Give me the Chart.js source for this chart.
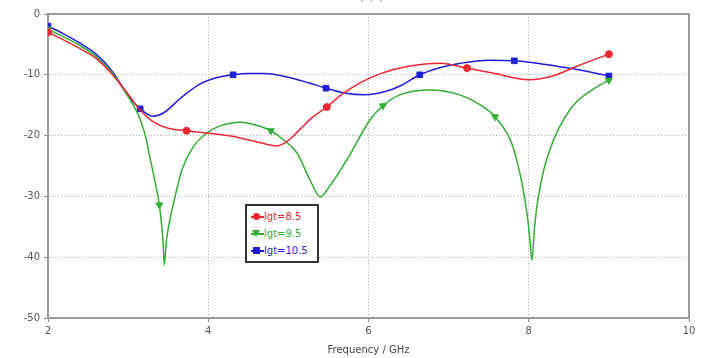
<!DOCTYPE html>
<html>
<head>
<meta charset="utf-8">
<script src="https://cdn.jsdelivr.net/npm/chart.js@4/dist/chart.umd.min.js"></script>
<style>
  html, body { margin: 0; padding: 0; background: #fff; }
  #wrap { position: relative; width: 709px; height: 358px; overflow: hidden; }
  #title { position: absolute; left: 0; width: 737px; top: -9px; text-align: center;
           font: 10px "DejaVu Sans", sans-serif; color: #555; }
  #legend { position: absolute; left: 245px; top: 204px; width: 70px; height: 55px;
            border: 2px solid #333; background: #fff; font: 10px "DejaVu Sans", sans-serif; }
  .item { position: absolute; left: 0; height: 12px; width: 70px; }
  .item .ln { position: absolute; left: 4px; top: 5px; width: 13px; height: 2px; }
  .item .mk { position: absolute; }
  .item .tx { position: absolute; left: 17px; top: 0; line-height: 12px; }
</style>
</head>
<body>
<div id="wrap">
  <canvas id="myChart"></canvas>
  <div id="title">S(1,1)</div>
  <div id="legend"></div>
</div>
<script>
// lgt = 8.5
const redFreq = [2.0, 2.2, 2.4, 2.6, 2.8, 3.0, 3.15, 3.3, 3.5, 3.73, 4.0, 4.3, 4.6, 4.86, 5.0, 5.15, 5.3, 5.48, 5.65, 5.9, 6.15, 6.5, 6.9, 7.23, 7.55, 8.0, 8.3, 8.6, 9.0];
const redDb   = [-3.0, -4.3, -5.7, -7.3, -9.9, -13.2, -15.8, -17.6, -18.8, -19.2, -19.6, -20.1, -21.0, -21.7, -20.8, -18.9, -17.0, -15.3, -13.4, -11.3, -9.8, -8.6, -8.1, -8.9, -9.7, -10.8, -10.2, -8.6, -6.6];
const redMarks = [2.0, 3.73, 5.48, 7.23, 9.0];

// lgt = 9.5
const greenFreq = [2.0, 2.2, 2.4, 2.6, 2.8, 3.0, 3.15, 3.22, 3.27, 3.33, 3.39, 3.42, 3.44, 3.45, 3.48, 3.52, 3.59, 3.67, 3.81, 3.98, 4.15, 4.4, 4.6, 4.78, 4.95, 5.11, 5.27, 5.4, 5.5, 5.73, 6.02, 6.18, 6.39, 6.77, 7.14, 7.35, 7.58, 7.77, 7.85, 7.93, 7.98, 8.01, 8.04, 8.07, 8.1, 8.14, 8.2, 8.31, 8.45, 8.6, 8.8, 9.0];
const greenDb   = [-2.5, -3.8, -5.2, -7.0, -9.7, -13.6, -17.3, -20.3, -23.5, -27.2, -31.4, -35.0, -38.3, -41.3, -37.0, -34.0, -29.8, -25.7, -21.9, -19.6, -18.4, -17.8, -18.3, -19.2, -20.8, -22.9, -27.3, -30.1, -28.6, -24.0, -17.4, -15.1, -13.3, -12.5, -13.3, -14.6, -16.9, -20.7, -24.0, -28.9, -33.0, -36.5, -40.5, -35.5, -31.8, -28.6, -25.0, -20.7, -17.0, -14.4, -12.4, -10.9];
const greenMarks = [2.0, 3.39, 4.78, 6.18, 7.58, 9.0];

// lgt = 10.5
const blueFreq = [2.0, 2.2, 2.4, 2.6, 2.8, 3.0, 3.15, 3.31, 3.45, 3.65, 3.9, 4.1, 4.31, 4.5, 4.7, 5.0, 5.25, 5.47, 5.7, 5.95, 6.2, 6.4, 6.64, 6.9, 7.15, 7.5, 7.82, 8.1, 8.5, 8.75, 9.0];
const blueDb   = [-2.0, -3.3, -4.8, -6.6, -9.4, -13.4, -15.6, -16.8, -16.2, -13.9, -11.5, -10.5, -10.0, -9.8, -9.8, -10.4, -11.3, -12.2, -13.0, -13.3, -12.8, -11.8, -10.0, -8.8, -8.1, -7.6, -7.7, -8.1, -8.9, -9.5, -10.2];
const blueMarks = [2.0, 3.15, 4.31, 5.47, 6.64, 7.82, 9.0];

const seriesLabels = ['lgt=8.5', 'lgt=9.5', 'lgt=10.5'];
const xTicks = [2, 4, 6, 8, 10];
const yTicks = [0, -10, -20, -30, -40, -50];

const RED = 'rgb(235,40,50)';
const GREEN = 'rgb(50,175,50)';
const BLUE = 'rgb(30,30,215)';

function pts(fs, vs) {
  return fs.map((f, i) => ({x: f, y: vs[i]}));
}

function makeSet(label, fs, vs, marks, color, style, rot, r) {
  return {
    label: label,
    data: pts(fs, vs),
    borderColor: color,
    backgroundColor: color,
    borderWidth: 1.5,
    cubicInterpolationMode: 'monotone',
    pointStyle: style,
    rotation: rot,
    pointRadius: (ctx) => (ctx.raw && marks.includes(ctx.raw.x)) ? r : 0,
    pointHoverRadius: 0,
    pointBorderWidth: 1,
  };
}

const frame = {
  id: 'frame',
  beforeDatasetsDraw(chart) {
    const a = chart.chartArea, c = chart.ctx;
    c.save();
    c.strokeStyle = '#9a9a9a';
    c.lineWidth = 2;
    c.strokeRect(a.left, a.top, a.right - a.left, a.bottom - a.top);
    c.restore();
  }
};

const gridOpts = {
  color: '#b0b0b0',
  tickLength: 4,
  tickColor: '#888',
  tickBorderDash: [],
};

const config = {
  type: 'line',
  data: {
    datasets: [
      makeSet(seriesLabels[0], redFreq, redDb, redMarks, RED, 'circle', 0, 3.5),
      makeSet(seriesLabels[1], greenFreq, greenDb, greenMarks, GREEN, 'triangle', 180, 4),
      makeSet(seriesLabels[2], blueFreq, blueDb, blueMarks, BLUE, 'rect', 0, 4),
    ]
  },
  options: {
    responsive: true,
    maintainAspectRatio: false,
    devicePixelRatio: 1,
    animation: false,
    layout: { padding: { top: 14, right: 20, left: 0, bottom: 0 } },
    plugins: { legend: { display: false }, title: { display: false }, tooltip: { enabled: false } },
    scales: {
      x: {
        type: 'linear',
        min: 2, max: 10,
        afterBuildTicks: (s) => { s.ticks = xTicks.map(v => ({value: v})); },
        afterFit: (s) => { s.height = 40; },
        grid: gridOpts,
        border: { color: '#9a9a9a', width: 2, dash: [1, 2] },
        ticks: { color: '#555', font: { family: 'DejaVu Sans', size: 10 }, padding: 3 },
        title: { display: true, text: 'Frequency / GHz', color: '#444',
                 font: { family: 'DejaVu Sans', size: 10 }, padding: { top: 0, bottom: 2 } },
      },
      y: {
        min: -50, max: 0,
        afterBuildTicks: (s) => { s.ticks = yTicks.map(v => ({value: v})); },
        afterFit: (s) => { s.width = 48; },
        grid: gridOpts,
        border: { color: '#9a9a9a', width: 2, dash: [1, 2] },
        ticks: { color: '#555', font: { family: 'DejaVu Sans', size: 10 }, padding: 4 },
      }
    }
  },
  plugins: [frame]
};

const ctx = document.getElementById('myChart').getContext('2d');
const myChart = new Chart(ctx, config);

// legend box inside the plot
const legendColors = [RED, GREEN, BLUE];
const legendShapes = ['circle', 'tri', 'square'];
const legend = document.getElementById('legend');
seriesLabels.forEach((lab, i) => {
  const it = document.createElement('div');
  it.className = 'item';
  it.style.top = (5 + i * 17) + 'px';
  const ln = document.createElement('div');
  ln.className = 'ln';
  ln.style.background = legendColors[i];
  const mk = document.createElement('div');
  mk.className = 'mk';
  if (legendShapes[i] === 'circle') {
    Object.assign(mk.style, {left: '6px', top: '2px', width: '7px', height: '7px', borderRadius: '50%', background: legendColors[i]});
  } else if (legendShapes[i] === 'square') {
    Object.assign(mk.style, {left: '6px', top: '2px', width: '7px', height: '7px', background: legendColors[i]});
  } else {
    Object.assign(mk.style, {left: '5px', top: '2px', width: '0', height: '0',
      borderLeft: '4.5px solid transparent', borderRight: '4.5px solid transparent',
      borderTop: '7px solid ' + legendColors[i]});
  }
  const tx = document.createElement('div');
  tx.className = 'tx';
  tx.style.color = legendColors[i];
  tx.innerText = lab;
  it.appendChild(ln);
  it.appendChild(mk);
  it.appendChild(tx);
  legend.appendChild(it);
});
</script>
</body>
</html>
